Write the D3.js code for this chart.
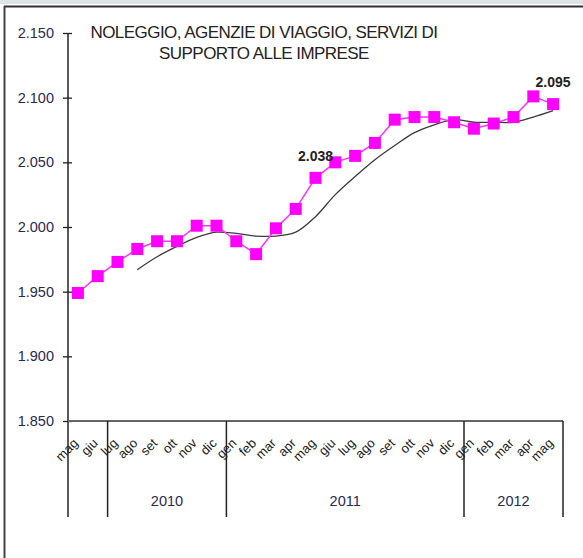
<!DOCTYPE html>
<html>
<head>
<meta charset="utf-8">
<script src="https://cdn.jsdelivr.net/npm/d3@7"></script>
<style>
  body { margin: 0; background: #fff; }
  svg { display: block; font-family: "Liberation Sans", Arial, sans-serif; }
</style>
</head>
<body>
<div id="chart"></div>
<script>
// month categories, mag 2010 .. mag 2012
const months = ["mag","giu","lug","ago","set","ott","nov","dic","gen","feb","mar","apr",
  "mag","giu","lug","ago","set","ott","nov","dic","gen","feb","mar","apr","mag"];
// monthly values (thousands)
const values = [1949,1962,1973,1983,1989,1989,2001,2001,1989,1979,1999,2014,
  2038,2050,2055,2065,2083,2085,2085,2081,2076,2080,2085,2101,2095];
// trend line (starts at ago 2010)
const trend = [null,null,null,1967,1977,1985,1992,1996,1995,1993,1993,1996,
  2008,2025,2039,2052,2063,2073,2079,2083,2081,2081,2081,2085,2090];
const yTicks = [1850,1900,1950,2000,2050,2100,2150];
// year groups under the axis
const yearLabels = ["", "2010", "2011", "2012"];
const yearStarts = [0, 2, 8, 20];
const labelled = [12, 24];

const width = 583, height = 558;
const fmt = v => (v / 1000).toFixed(3);

const svg = d3.select("#chart").append("svg")
  .attr("width", width).attr("height", height);

// frame
svg.append("rect").attr("x", 0).attr("y", 0).attr("width", width).attr("height", 4).attr("fill", "#dfe3ea");
svg.append("line").attr("x1", 4).attr("x2", width).attr("y1", 6.5).attr("y2", 6.5)
  .attr("stroke", "#333").attr("stroke-width", 2);
svg.append("line").attr("x1", 4.5).attr("x2", 4.5).attr("y1", 6).attr("y2", height)
  .attr("stroke", "#444").attr("stroke-width", 2);

const x = d3.scaleBand().domain(d3.range(months.length)).range([68, 563]).padding(0);
const y = d3.scaleLinear().domain([1850, 2150]).range([421, 33]);
const cx = i => x(i) + x.bandwidth() / 2;
const edge = i => (i >= months.length ? x.range()[1] : x(i));

// title
const title = svg.append("text").attr("text-anchor", "middle")
  .attr("font-size", 17).attr("letter-spacing", -0.55).attr("fill", "#222");
title.append("tspan").attr("x", 264).attr("y", 38).text("NOLEGGIO, AGENZIE DI VIAGGIO, SERVIZI DI");
title.append("tspan").attr("x", 264).attr("y", 59).text("SUPPORTO ALLE IMPRESE");

// y axis
const yAxis = svg.append("g").attr("transform", "translate(68,0)")
  .call(d3.axisLeft(y).tickValues(yTicks).tickFormat(fmt).tickSize(5).tickPadding(9));
yAxis.select(".domain").remove();
yAxis.selectAll(".tick line").attr("x1", 4).attr("x2", -5).attr("stroke", "#222").attr("stroke-width", 1.3);
yAxis.selectAll(".tick text").attr("font-size", 14.5).attr("fill", "#2a2a50")
  .attr("font-family", "Liberation Sans, Arial, sans-serif");
svg.append("line").attr("x1", 68).attr("x2", 68).attr("y1", 33).attr("y2", 517)
  .attr("stroke", "#222").attr("stroke-width", 1.5);

// x axis baseline
svg.append("line").attr("x1", 68).attr("x2", 563).attr("y1", 421).attr("y2", 421)
  .attr("stroke", "#666").attr("stroke-width", 2);

// month labels
svg.append("g").selectAll("text").data(months).join("text")
  .attr("transform", (d, i) => `translate(${cx(i) + 1},${444}) rotate(-45)`)
  .attr("text-anchor", "end")
  .attr("font-size", 13).attr("fill", "#222")
  .text(d => d);

// year separators and labels
const yearEnds = yearStarts.slice(1).concat([months.length]);
svg.append("g").selectAll("line").data(yearEnds).join("line")
  .attr("x1", d => edge(d)).attr("x2", d => edge(d))
  .attr("y1", 421).attr("y2", 517)
  .attr("stroke", "#222").attr("stroke-width", 1.5);
svg.append("g").selectAll("text").data(yearLabels).join("text")
  .attr("x", (d, i) => (edge(yearStarts[i]) + edge(yearEnds[i])) / 2)
  .attr("y", 506)
  .attr("text-anchor", "middle").attr("font-size", 14.5).attr("fill", "#2a2a50")
  .text(d => d);

// trend line
const trendLine = d3.line()
  .defined(d => d != null)
  .x((d, i) => cx(i)).y(d => y(d))
  .curve(d3.curveCatmullRom.alpha(0.5));
svg.append("path").datum(trend).attr("d", trendLine)
  .attr("fill", "none").attr("stroke", "#3a3a3a").attr("stroke-width", 1.3);

// main series
const line = d3.line().x((d, i) => cx(i)).y(d => y(d));
svg.append("path").datum(values).attr("d", line)
  .attr("fill", "none").attr("stroke", "#ff33ff").attr("stroke-width", 1.5);
const sq = 12;
svg.append("g").selectAll("rect").data(values).join("rect")
  .attr("x", (d, i) => cx(i) - sq / 2).attr("y", d => y(d) - sq / 2)
  .attr("width", sq).attr("height", sq).attr("fill", "#ff00ff");

// value labels
svg.append("g").selectAll("text").data(labelled).join("text")
  .attr("x", i => cx(i)).attr("y", i => y(values[i]) - 17)
  .attr("text-anchor", "middle").attr("font-size", 14).attr("font-weight", "bold").attr("fill", "#222")
  .text(i => fmt(values[i]));
</script>
</body>
</html>
